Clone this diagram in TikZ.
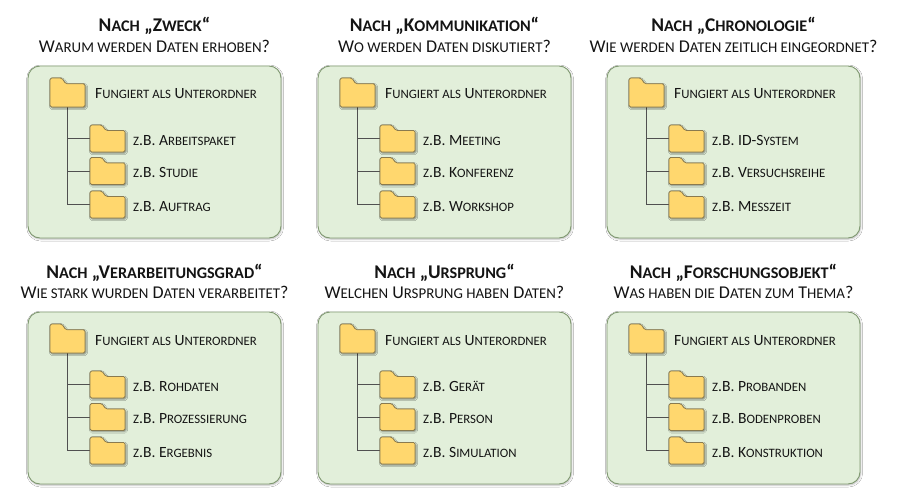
\documentclass[tikz,border=0pt]{standalone}
\usepackage{fontspec}
\setmainfont{Carlito}
\usetikzlibrary{shadows.blur}
\definecolor{panelfill}{HTML}{E2EFDA}
\definecolor{panelline}{HTML}{7F9870}
\definecolor{foldfill}{HTML}{FFD76E}
\definecolor{foldline}{HTML}{8A7A4E}
\definecolor{treeline}{HTML}{505050}
\definecolor{txt}{HTML}{141414}
\newcommand\sksz{10}
\newcommand\sk[1]{{\fontsize{\sksz}{\sksz}\selectfont #1}}
\tikzset{
  panelbox/.style={draw=panelline, fill=panelfill, line width=0.9pt, rounded corners=12pt,
    inner sep=0pt, outer sep=0pt, anchor=north west, minimum width=253pt, minimum height=172pt,
    blur shadow={shadow xshift=0.6pt, shadow yshift=-1pt, shadow opacity=30, shadow blur radius=2pt}},
  foldbox/.style={inner sep=0pt, outer sep=0pt, minimum width=35pt, minimum height=27pt},
  bigfold/.style={foldbox, minimum height=29pt},
  foldshape/.style={draw=foldline, fill=foldfill, line width=0.8pt, rounded corners=1.5pt,
    blur shadow={shadow xshift=1pt, shadow yshift=-1.2pt, shadow opacity=45, shadow blur radius=1.5pt}},
  tree/.style={draw=treeline, line width=1pt},
  titletext/.style={text=txt, inner sep=0pt, anchor=base, font=\fontsize{19.4}{22}\bfseries\selectfont\def\sksz{16.2}},
  subtext/.style={text=txt, inner sep=0pt, anchor=base, font=\fontsize{18}{20}\selectfont\def\sksz{14.9}},
  itemtext/.style={text=txt, inner sep=0pt, anchor=base west, font=\fontsize{15.6}{18}\selectfont\def\sksz{12.8}},
}
\newcommand\drawfold[1]{%
  \path[foldshape] let \p1=(#1.south west), \p2=(#1.north east) in
    (\x1,\y1) -- (\x1,\y2) -- ({\x1+0.34*(\x2-\x1)},\y2) -- ({\x1+0.45*(\x2-\x1)},{\y2-0.2*(\y2-\y1)})
    -- (\x2,{\y2-0.2*(\y2-\y1)}) -- (\x2,\y1) -- cycle;}
% #1 prefix, #2 px, #3 py, #4 title word, #5 subtitle, #6-#8 items
\newcommand\panel[8]{%
  \node[panelbox] (#1box) at (#2,#3) {};
  \node[titletext] (#1title) at ({#2+126.5},{#3-34}) {N\sk{ACH} „#4“};
  \node[subtext] (#1sub) at ({#2+126.5},{#3-13.5}) {#5};
  \node[bigfold] (#1f) at ({#2+39.5},{#3+26.5}) {};
  \node[foldbox] (#1a1) at ({#2+79.5},{#3+72.5}) {};
  \node[foldbox] (#1a2) at ({#2+79.5},{#3+105}) {};
  \node[foldbox] (#1a3) at ({#2+79.5},{#3+138.5}) {};
  \draw[tree] (#1f.south) -- (#1f.south |- #1a3.west) -- (#1a3.west);
  \draw[tree] (#1f.south |- #1a1.west) -- (#1a1.west);
  \draw[tree] (#1f.south |- #1a2.west) -- (#1a2.west);
  \drawfold{#1f}\drawfold{#1a1}\drawfold{#1a2}\drawfold{#1a3}
  \node[itemtext] (#1ft) at ({#2+67},{#3+33}) {F\sk{UNGIERT ALS} U\sk{NTERORDNER}};
  \node[itemtext] (#1t1) at ({#2+105},{#3+79}) {\sk{Z}.B. #6};
  \node[itemtext] (#1t2) at ({#2+105},{#3+111.5}) {\sk{Z}.B. #7};
  \node[itemtext] (#1t3) at ({#2+105},{#3+145}) {\sk{Z}.B. #8};
}
\begin{document}
\begin{tikzpicture}[x=1pt,y=-1pt]
\fill[white] (0,0) rectangle (900,503);
\useasboundingbox (0,0) rectangle (900,503);
\panel{p}{28}{66}{Z\sk{WECK}}{W\sk{ARUM WERDEN} D\sk{ATEN ERHOBEN}?}{A\sk{RBEITSPAKET}}{S\sk{TUDIE}}{A\sk{UFTRAG}}
\panel{q}{318}{66}{K\sk{OMMUNIKATION}}{W\sk{O WERDEN} D\sk{ATEN DISKUTIERT}?}{M\sk{EETING}}{K\sk{ONFERENZ}}{W\sk{ORKSHOP}}
\panel{r}{607}{66}{C\sk{HRONOLOGIE}}{W\sk{IE WERDEN} D\sk{ATEN ZEITLICH EINGEORDNET}?}{ID-S\sk{YSTEM}}{V\sk{ERSUCHSREIHE}}{M\sk{ESSZEIT}}
\panel{s}{28}{312}{V\sk{ERARBEITUNGSGRAD}}{W\sk{IE STARK WURDEN} D\sk{ATEN VERARBEITET}?}{R\sk{OHDATEN}}{P\sk{ROZESSIERUNG}}{E\sk{RGEBNIS}}
\panel{t}{318}{312}{U\sk{RSPRUNG}}{W\sk{ELCHEN} U\sk{RSPRUNG HABEN} D\sk{ATEN}?}{G\sk{ERÄT}}{P\sk{ERSON}}{S\sk{IMULATION}}
\panel{u}{607}{312}{F\sk{ORSCHUNGSOBJEKT}}{W\sk{AS HABEN DIE} D\sk{ATEN ZUM} T\sk{HEMA}?}{P\sk{ROBANDEN}}{B\sk{ODENPROBEN}}{K\sk{ONSTRUKTION}}
\end{tikzpicture}
\end{document}
